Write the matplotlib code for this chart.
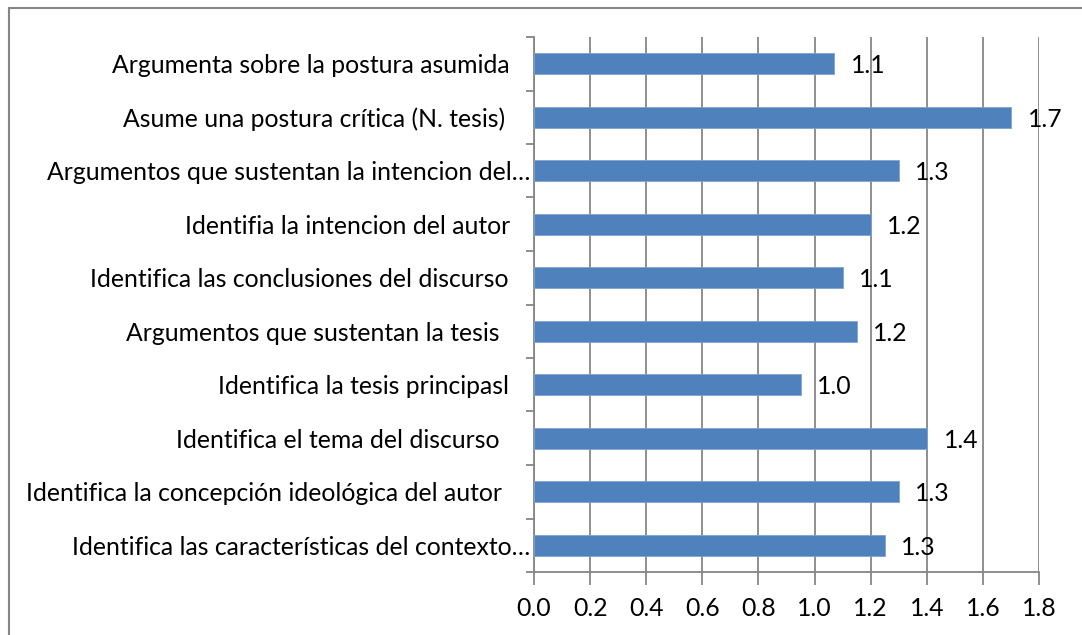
import numpy as np
import matplotlib.pyplot as plt
from decimal import Decimal, ROUND_HALF_UP

# categorías (de arriba hacia abajo)
categorias = [
    "Argumenta sobre la postura asumida",
    "Asume una postura crítica (N. tesis)",
    "Argumentos que sustentan la intencion del…",
    "Identifia la intencion del autor",
    "Identifica las conclusiones del discurso",
    "Argumentos que sustentan la tesis",
    "Identifica la tesis principasl",
    "Identifica el tema del discurso",
    "Identifica la concepción ideológica del autor",
    "Identifica las características del contexto…",
]
valores = [1.07, 1.70, 1.30, 1.20, 1.10, 1.15, 0.95, 1.40, 1.30, 1.25]
xticks = [0.0, 0.2, 0.4, 0.6, 0.8, 1.0, 1.2, 1.4, 1.6, 1.8]

# separación de cada etiqueta respecto al eje (px)
pads_px = [24, 29, 4, 24, 26, 34, 25, 34, 32, 4]


def redondear(v):
    return str(Decimal(str(v)).quantize(Decimal("0.1"), rounding=ROUND_HALF_UP))


plt.rcParams['font.family'] = ['Lato', 'DejaVu Sans']
fs = 17.8

fig = plt.figure(figsize=(10.82, 6.35), dpi=100)
ax = fig.add_axes([534 / 1082, 63 / 635, 505 / 1082, 535 / 635])

# borde exterior del gráfico
fig.patches.append(plt.Rectangle((9 / 1082, -0.1), 1.2, (635 - 8) / 635 + 0.1,
                                 transform=fig.transFigure, fill=False,
                                 edgecolor='#868686', linewidth=1.5))

y = np.arange(len(categorias))
ax.barh(y, valores, height=0.39, color='#4F81BD', edgecolor='#7fa3d1', linewidth=0.6, zorder=3)

for yi, v in zip(y, valores):
    ax.annotate(redondear(v), (v, yi), xytext=(12, -1.5), textcoords='offset points',
                ha='left', va='center', fontsize=fs, color='black', zorder=4)

ax.set_xlim(0, 1.8)
ax.set_ylim(len(categorias) - 0.5, -0.5)
ax.set_xticks(xticks)
ax.set_xticklabels([f"{t:.1f}" for t in xticks], fontsize=fs)
ax.set_yticks(y)
ax.set_yticklabels(categorias, fontsize=fs)
ax.set_yticks(np.arange(len(categorias) + 1) - 0.5, minor=True)

ax.grid(axis='x', color='#868686', linewidth=1.3, zorder=0)
ax.tick_params(axis='y', which='major', length=0)
ax.tick_params(axis='y', which='minor', length=6, width=1.3, color='#868686')
ax.tick_params(axis='x', length=9, width=1.3, color='#868686', pad=9)
for tk, p in zip(ax.yaxis.get_major_ticks(), pads_px):
    tk.set_pad(p * 0.72)

for s in ['top', 'right']:
    ax.spines[s].set_visible(False)
for s in ['left', 'bottom']:
    ax.spines[s].set_color('#868686')
    ax.spines[s].set_linewidth(1.3)

fig.savefig('out.png', dpi=100)
